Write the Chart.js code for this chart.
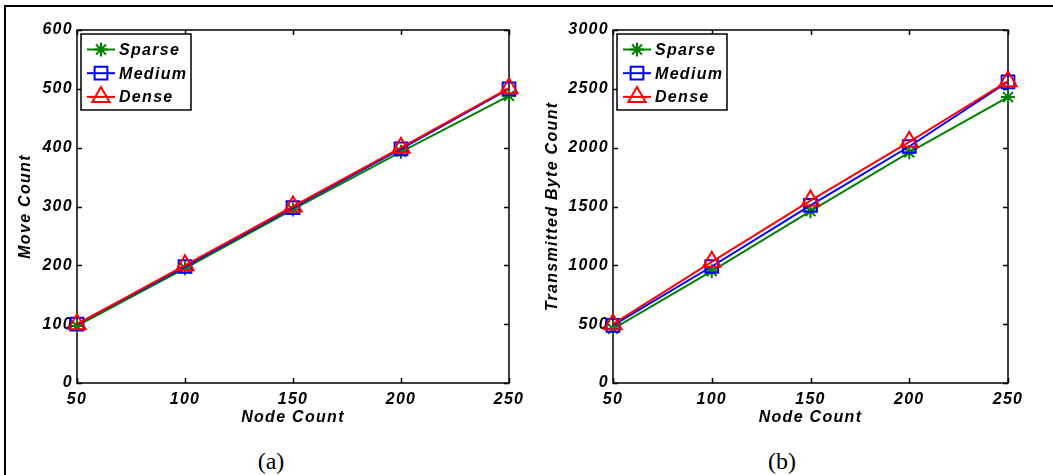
<!DOCTYPE html>
<html lang="en">
<head>
  <meta charset="UTF-8">
  <title>Node Count vs Move / Byte Count</title>
  <style>
    body {
      margin: 0;
      width: 1053px;
      height: 475px;
      overflow: hidden;
      background: #fff;
      position: relative;
    }

    .frame {
      position: absolute;
      left: 4px;
      top: 5px;
      width: 1100px;
      height: 520px;
      border: 2px solid #000;
      pointer-events: none;
    }

    canvas {
      position: absolute;
      top: 0;
    }

    #move-chart { left: 0; }
    #byte-chart { left: 530px; }

    .caption {
      position: absolute;
      top: 447px;
      width: 80px;
      margin-left: -40px;
      text-align: center;
      font-family: "Liberation Serif", "Times New Roman", serif;
      font-size: 24px;
      line-height: 28px;
      color: #000;
    }
  </style>
</head>
<body>
  <canvas id="move-chart" width="530" height="440"></canvas>
  <canvas id="byte-chart" width="523" height="440"></canvas>
  <div class="caption" style="left: 271px;">(a)</div>
  <div class="caption" style="left: 782px;">(b)</div>
  <div class="frame"></div>

  <script src="https://cdn.jsdelivr.net/npm/chart.js"></script>
  <script>
    // x values shared by both panels
    const nodeCounts = [50, 100, 150, 200, 250];

    // (a) moves
    const moveSparse = [97, 195, 295, 393, 488];
    const moveMedium = [100, 198, 298, 398, 500];
    const moveDense = [100, 200, 300, 400, 501];

    // (b) transmitted bytes
    const byteSparse = [460, 950, 1460, 1960, 2430];
    const byteMedium = [490, 990, 1510, 2010, 2560];
    const byteDense = [500, 1030, 1550, 2050, 2565];

    const seriesNames = ["Sparse", "Medium", "Dense"];
    const FONT = '"Liberation Sans", Arial, Helvetica, sans-serif';

    Chart.defaults.font.family = FONT;
    Chart.defaults.font.size = 16;
    Chart.defaults.font.style = "italic";
    Chart.defaults.font.weight = "bold";
    Chart.defaults.color = "#000";

    const styles = [
      { color: "#008000", point: "star", radius: 7, order: 2 },
      { color: "#0000ff", point: "rect", radius: 9, order: 1 },
      { color: "#ff0000", point: "triangle", radius: 10, order: 0 },
    ];

    // matlab-ish letter spacing for every piece of text
    const spacing = {
      id: "spacing",
      beforeDraw(chart) {
        chart.ctx.letterSpacing = "1.3px";
      },
    };

    // box round the plot with ticks pointing inwards on all four sides
    const frameTicks = {
      id: "frameTicks",
      beforeDatasetsDraw(chart) {
        const { ctx, chartArea: a, scales: { x, y } } = chart;
        const len = 5;
        ctx.save();
        ctx.strokeStyle = "#000";
        ctx.lineWidth = 1.5;
        ctx.strokeRect(a.left, a.top, a.right - a.left, a.bottom - a.top);
        ctx.beginPath();
        x.ticks.forEach(t => {
          const px = Math.round(x.getPixelForValue(t.value)) + 0.5;
          ctx.moveTo(px, a.bottom); ctx.lineTo(px, a.bottom - len);
          ctx.moveTo(px, a.top); ctx.lineTo(px, a.top + len);
        });
        y.ticks.forEach(t => {
          const py = Math.round(y.getPixelForValue(t.value)) + 0.5;
          ctx.moveTo(a.left, py); ctx.lineTo(a.left + len, py);
          ctx.moveTo(a.right, py); ctx.lineTo(a.right - len, py);
        });
        ctx.stroke();
        ctx.restore();
      },
    };

    // legend box in the upper left corner of the plot
    const boxLegend = {
      id: "boxLegend",
      afterDatasetsDraw(chart) {
        const { ctx, chartArea: a } = chart;
        const bx = a.left + 4, by = a.top + 4, bw = 110, bh = 76;
        ctx.save();
        ctx.fillStyle = "#fff";
        ctx.fillRect(bx, by, bw, bh);
        ctx.strokeStyle = "#000";
        ctx.lineWidth = 1.5;
        ctx.strokeRect(bx, by, bw, bh);

        ctx.font = "italic bold 16px " + FONT;
        ctx.letterSpacing = "1.3px";
        ctx.textBaseline = "middle";
        ctx.textAlign = "left";

        chart.data.datasets.forEach((ds, i) => {
          const rowY = by + 15.5 + i * 23.7;
          ctx.strokeStyle = ds.borderColor;
          ctx.lineWidth = 2;
          ctx.beginPath();
          ctx.moveTo(bx + 6, rowY);
          ctx.lineTo(bx + 34, rowY);
          ctx.stroke();
          // hollow marker
          ctx.fillStyle = "rgba(0,0,0,0)";
          Chart.helpers.drawPoint(ctx, {
            pointStyle: ds.pointStyle,
            radius: ds.pointRadius,
            borderWidth: 2,
            rotation: 0,
          }, bx + 20, rowY);
          ctx.fillStyle = "#000";
          ctx.fillText(ds.label, bx + 38, rowY + 1);
        });
        ctx.restore();
      },
    };

    function makeChart(id, yTitle, yMax, yStep, series, axisWidth, titlePad, padRight) {
      const datasets = series.map((vals, i) => ({
        label: seriesNames[i],
        data: nodeCounts.map((n, j) => ({ x: n, y: vals[j] })),
        borderColor: styles[i].color,
        backgroundColor: "transparent",
        borderWidth: 2,
        pointStyle: styles[i].point,
        pointRadius: styles[i].radius,
        pointBorderColor: styles[i].color,
        pointBackgroundColor: "transparent",
        pointBorderWidth: 2,
        tension: 0,
        clip: false,
        order: styles[i].order,
      }));

      return new Chart(document.getElementById(id), {
        type: "line",
        data: { datasets },
        options: {
          responsive: false,
          animation: false,
          devicePixelRatio: 1,
          events: [],
          layout: { padding: { top: 30, right: padRight, bottom: 0, left: 0 } },
          plugins: {
            legend: { display: false },
            tooltip: { enabled: false },
          },
          scales: {
            x: {
              type: "linear",
              min: 50,
              max: 250,
              grid: { display: false, drawTicks: false },
              border: { display: false },
              ticks: { stepSize: 50, padding: 7, maxRotation: 0, callback: v => String(v) },
              title: {
                display: true,
                text: "Node Count",
                padding: { top: 0, bottom: 13 },
              },
              afterFit: s => { s.height = 57; },
            },
            y: {
              min: 0,
              max: yMax,
              grid: { display: false, drawTicks: false },
              border: { display: false },
              ticks: { stepSize: yStep, padding: 4, callback: v => String(v) },
              title: {
                display: true,
                text: yTitle,
                padding: { top: titlePad, bottom: 0 },
              },
              afterFit: s => { s.width = axisWidth; },
            },
          },
        },
        plugins: [spacing, frameTicks, boxLegend],
      });
    }

    makeChart("move-chart", "Move Count", 600, 100,
      [moveSparse, moveMedium, moveDense], 77, 16, 21);
    makeChart("byte-chart", "Transmitted Byte Count", 3000, 500,
      [byteSparse, byteMedium, byteDense], 83, 13, 45);
  </script>
</body>
</html>
